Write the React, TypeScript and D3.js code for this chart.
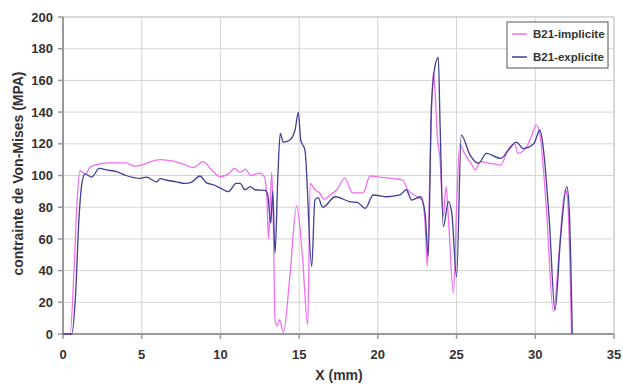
import React from "react";
import * as d3 from "d3";

const xTicks = [0, 5, 10, 15, 20, 25, 30, 35];
const yTicks = [0, 20, 40, 60, 80, 100, 120, 140, 160, 180, 200];

const implicitX = [0, 0.45, 0.7, 0.9, 1.08, 1.25, 1.45, 1.7, 2.0, 3.0, 4.0, 4.5, 5.0, 5.5, 6.2, 7.0, 7.7, 8.3, 8.9, 9.4, 10.0, 10.5, 10.9, 11.25, 11.6, 11.9, 12.5, 12.8, 12.96, 13.05, 13.15, 13.26, 13.35, 13.47, 13.6, 13.75, 14.0, 14.4, 14.85, 15.2, 15.55, 15.7, 16.0, 16.3, 16.6, 17.0, 17.4, 17.9, 18.4, 19.06, 19.5, 20.1, 21.0, 21.6, 21.9, 22.5, 22.8, 23.0, 23.14, 23.3, 23.52, 23.65, 23.78, 23.95, 24.16, 24.33, 24.5, 24.8, 25.0, 25.2, 25.5, 25.9, 26.2, 26.5, 27.1, 27.8, 28.3, 28.7, 28.9, 29.45, 29.8, 30.05, 30.3, 30.7, 31.15, 31.5, 31.9, 32.05, 32.3];
const implicitV = [0, 0, 40, 85, 103, 102, 101, 105, 106.5, 108, 108, 106, 106.6, 108.5, 110, 109, 107, 105, 108.7, 104, 99.2, 101, 104.5, 102, 104, 100, 101.5, 99, 84, 60, 80, 102, 75, 9, 5, 9, 1, 35, 81, 50, 5.7, 95, 91, 89, 85, 88, 91, 98.4, 89, 89, 99.7, 99, 98, 97, 91, 86.6, 84.5, 70, 42.5, 100, 165, 150, 124.5, 110, 74, 93, 70, 25.7, 80, 120, 114, 108, 103.5, 108.7, 107.7, 106.6, 117, 120, 114, 118, 126, 132, 125.5, 80, 14, 50, 91, 85, 0];

const explicitX = [0, 0.55, 0.8, 1.0, 1.2, 1.4, 1.82, 2.3, 2.8, 3.4, 4.0, 4.9, 5.3, 5.95, 6.16, 6.6, 7.2, 7.75, 8.2, 8.7, 9.1, 9.6, 10.0, 10.5, 11.0, 11.25, 11.56, 11.9, 12.2, 12.83, 13.0, 13.2, 13.32, 13.47, 13.65, 13.8, 14.0, 14.4, 14.74, 14.95, 15.1, 15.37, 15.8, 16.0, 16.2, 16.5, 17.3, 18.2, 18.7, 19.2, 19.7, 20.6, 21.4, 21.8, 22.15, 22.7, 23.0, 23.2, 23.4, 23.65, 23.84, 23.95, 24.16, 24.48, 24.7, 25.0, 25.3, 25.85, 26.4, 26.9, 27.8, 28.3, 28.8, 29.24, 29.9, 30.3, 30.5, 30.9, 31.25, 31.6, 32.0, 32.15, 32.35];
const explicitV = [0, 0, 25, 70, 95, 101, 99, 104.5, 103.5, 102.4, 100, 98.2, 99, 96, 98, 97, 96, 95, 96, 99.7, 95.5, 94, 92, 89.8, 95, 95, 91, 93, 91, 90.6, 88, 70, 90, 51, 100, 126.6, 121, 122.4, 128.7, 140, 122.4, 116, 42.5, 84.5, 86, 80, 86.6, 83.5, 83, 79.3, 87.7, 86.6, 87.7, 91, 84.5, 86.6, 76, 49, 143, 170, 174.5, 133, 67.7, 83.5, 76, 36, 125.5, 113, 107.7, 114, 110.8, 116, 121, 117, 120, 128.7, 118, 70, 15, 60, 93, 80, 0];

const seriesNames = ["B21-implicite", "B21-explicite"];
const seriesColors = ["#f070f0", "#3f3f95"];

const W = 623, H = 385;
const L = 63, R = 614, T = 17, B = 334;
const FONT = "'Liberation Sans', Arial, sans-serif";
const TEXT = "#333";

export default function App() {
  const x = d3.scaleLinear().domain([0, 35]).range([L, R]);
  const y = d3.scaleLinear().domain([0, 200]).range([B, T]);
  const line = d3.line<[number, number]>().x(d => x(d[0])).y(d => y(d[1])).curve(d3.curveMonotoneX);
  const impl = implicitX.map((v, i) => [v, implicitV[i]] as [number, number]);
  const expl = explicitX.map((v, i) => [v, explicitV[i]] as [number, number]);

  return (
    <svg width={W} height={H} style={{ position: "absolute", left: 0, top: 0, background: "#fff" }}>
      <rect x={0} y={0} width={W} height={H} fill="#fff" />
      {/* grid */}
      {yTicks.map(t => (
        <line key={"gy" + t} x1={L} x2={R} y1={y(t)} y2={y(t)} stroke="#d4d4d4" strokeWidth={1} />
      ))}
      {xTicks.map(t => (
        <line key={"gx" + t} x1={x(t)} x2={x(t)} y1={T} y2={B} stroke="#d4d4d4" strokeWidth={1} />
      ))}
      <rect x={L} y={T} width={R - L} height={B - T} fill="none" stroke="#c8c8c8" strokeWidth={1} />
      {/* axes */}
      <line x1={L} x2={L} y1={T} y2={B} stroke="#999" strokeWidth={2} />
      <line x1={L} x2={R} y1={B} y2={B} stroke="#999" strokeWidth={2} />
      {yTicks.map(t => (
        <g key={"ty" + t}>
          <line x1={L - 5} x2={L} y1={y(t)} y2={y(t)} stroke="#999" strokeWidth={1.5} />
          <text x={L - 10} y={y(t)} dy="0.36em" textAnchor="end" fontFamily={FONT} fontWeight="bold" fontSize={13} fill={TEXT}>{t}</text>
        </g>
      ))}
      {xTicks.map(t => (
        <g key={"tx" + t}>
          <line x1={x(t)} x2={x(t)} y1={B} y2={B + 5} stroke="#999" strokeWidth={1.5} />
          <text x={x(t)} y={358.5} textAnchor="middle" fontFamily={FONT} fontWeight="bold" fontSize={13} fill={TEXT}>{t}</text>
        </g>
      ))}
      {/* series */}
      <path d={line(impl) || ""} fill="none" stroke={seriesColors[0]} strokeWidth={1.3} />
      <path d={line(expl) || ""} fill="none" stroke={seriesColors[1]} strokeWidth={1.3} />
      {/* titles */}
      <text x={339} y={380} textAnchor="middle" fontFamily={FONT} fontWeight="bold" fontSize={14} fill={TEXT}>X (mm)</text>
      <text transform="translate(23,173.5) rotate(-90)" textAnchor="middle" fontFamily={FONT} fontWeight="bold" fontSize={14} fill={TEXT}>contrainte de Von-Mises (MPA)</text>
      {/* legend */}
      <rect x={507} y={22} width={101} height={46} fill="#fff" stroke="#555" strokeWidth={1} />
      {seriesNames.map((n, i) => (
        <g key={n}>
          <line x1={512} x2={527} y1={34 + i * 23} y2={34 + i * 23} stroke={seriesColors[i]} strokeWidth={1.5} />
          <text x={533} y={34 + i * 23} dy="0.36em" fontFamily={FONT} fontWeight="bold" fontSize={11.5} fill={TEXT}>{n}</text>
        </g>
      ))}
    </svg>
  );
}
